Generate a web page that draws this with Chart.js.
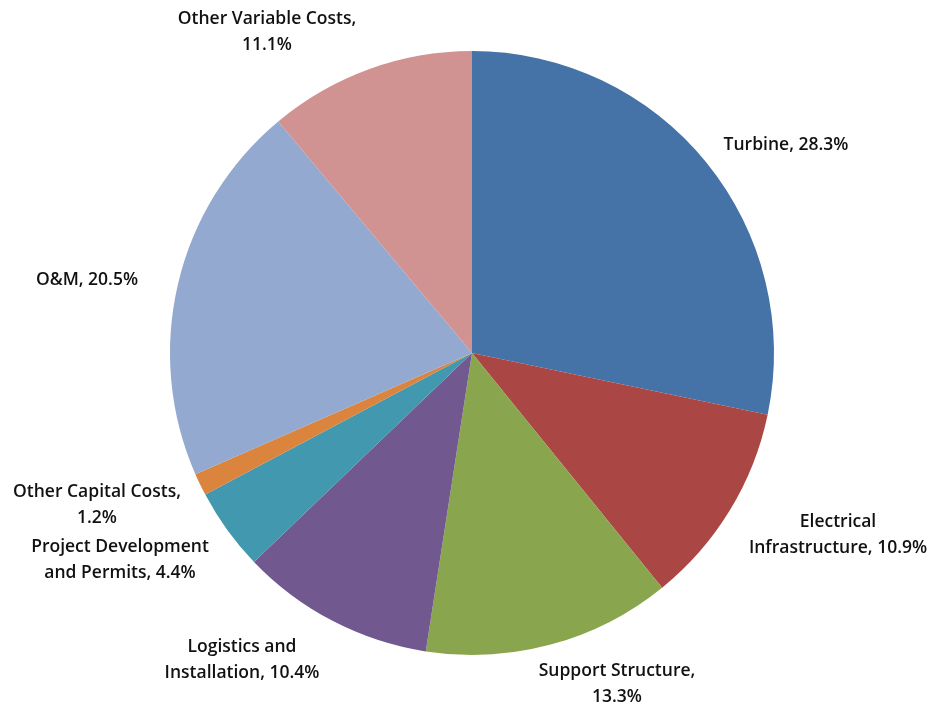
<!DOCTYPE html>
<html>
<head>
<meta charset="utf-8">
<script src="https://cdn.jsdelivr.net/npm/chart.js@4"></script>
<style>
  html, body { margin: 0; padding: 0; background: #fff; }
  canvas { display: block; }
</style>
</head>
<body>
<canvas id="pie" width="930" height="706"></canvas>
<script>
// slices, clockwise from 12 o'clock
const categories = ['Turbine', 'Electrical Infrastructure', 'Support Structure', 'Logistics and Installation',
  'Project Development and Permits', 'Other Capital Costs', 'O&M', 'Other Variable Costs']
const shares = [28.3, 10.9, 13.3, 10.4, 4.4, 1.2, 20.5, 11.1]
const colors = ['#4572A7', '#AA4643', '#89A54E', '#71588F', '#4198AF', '#DB843D', '#93A9CF', '#D19392']

// label lines (text) and their centre offset from the pie centre, px
const labelLines = [
  ['Turbine, 28.3%'],
  ['Electrical', 'Infrastructure, 10.9%'],
  ['Support Structure,', '13.3%'],
  ['Logistics and', 'Installation, 10.4%'],
  ['Project Development', 'and Permits, 4.4%'],
  ['Other Capital Costs,', '1.2%'],
  ['O&M, 20.5%'],
  ['Other Variable Costs,', '11.1%']
]
const labelOffsets = [[314, -208], [366, 182], [145, 331], [-230, 307], [-352, 207], [-375, 152], [-385, -73], [-205, -321]]

const outsideLabels = {
  id: 'outsideLabels',
  afterDatasetsDraw (chart) {
    const arc = chart.getDatasetMeta(0).data[0]
    const { x: cx, y: cy } = arc
    const ctx = chart.ctx
    ctx.save()
    ctx.font = '600 17.5px "Open Sans", Lato, sans-serif'
    ctx.fillStyle = '#111'
    ctx.textAlign = 'center'
    ctx.textBaseline = 'middle'
    labelLines.forEach((lines, i) => {
      const [dx, dy] = labelOffsets[i]
      const lh = 26
      const y0 = cy + dy - (lines.length - 1) * lh / 2
      lines.forEach((t, j) => ctx.fillText(t, cx + dx, y0 + j * lh))
    })
    ctx.restore()
  }
}

new Chart(document.getElementById('pie'), {
  type: 'pie',
  data: {
    labels: categories,
    datasets: [{
      data: shares,
      backgroundColor: colors,
      borderWidth: 0,
      hoverOffset: 0
    }]
  },
  options: {
    responsive: false,
    animation: false,
    devicePixelRatio: 1,
    layout: { padding: { left: 170, right: 156, top: 51, bottom: 51 } },
    plugins: { legend: { display: false }, tooltip: { enabled: false } }
  },
  plugins: [outsideLabels]
})
</script>
</body>
</html>
